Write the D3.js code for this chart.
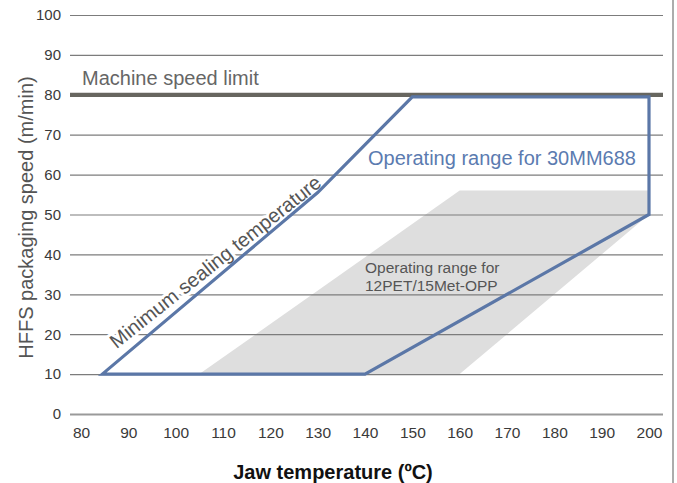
<!DOCTYPE html>
<html>
<head>
<meta charset="utf-8">
<script src="https://cdn.jsdelivr.net/npm/d3@7"></script>
<style>
  html, body { margin: 0; padding: 0; background: #fff; }
  svg { display: block; font-family: "Liberation Sans", Arial, Helvetica, sans-serif; }
</style>
</head>
<body>
<svg id="chart" width="677" height="483"></svg>
<script>
// ---- data ----
const xTicks = [80, 90, 100, 110, 120, 130, 140, 150, 160, 170, 180, 190, 200];
const yTicks = [0, 10, 20, 30, 40, 50, 60, 70, 80, 90, 100];
const speedLimit = 80;
// Operating range for 30MM688 (blue outline)
const blueTemp  = [84.5, 130, 150, 200, 200, 140];
const blueSpeed = [10, 55.5, 79.5, 79.5, 50, 10];
// Operating range for 12PET/15Met-OPP (grey area)
const greyTemp  = [105, 160, 200, 200, 160];
const greySpeed = [10, 56, 56, 50, 10];

// ---- layout ----
const W = 677, H = 483;
const gridLeft = 70, gridRight = 663;
const svg = d3.select("#chart");
const x = d3.scaleLinear().domain([80, 200]).range([81, 649]);
const y = d3.scaleLinear().domain([0, 100]).range([414, 15]);

// grey area
const greyPts = greyTemp.map((t, i) => [x(t), y(greySpeed[i])]);
svg.append("path")
  .attr("d", d3.line()(greyPts) + "Z")
  .attr("fill", "#dedede");

// y axis with gridlines
const yAxis = svg.append("g")
  .attr("transform", `translate(${gridLeft},0)`)
  .call(d3.axisLeft(y).tickValues(yTicks).tickSize(-(gridRight - gridLeft)).tickPadding(9));
yAxis.select(".domain").remove();
yAxis.selectAll(".tick line")
  .attr("stroke", d => d === 0 ? "#9a9a9a" : "#7c7c7c")
  .attr("stroke-width", d => d === 0 ? 2 : 1.2);
yAxis.selectAll(".tick text")
  .attr("fill", "#3a3a3a")
  .style("font-size", "15px")
  .style("font-family", "'Liberation Sans', Arial, sans-serif");

// x axis labels
const xAxis = svg.append("g")
  .attr("transform", `translate(0,${y(0)})`)
  .call(d3.axisBottom(x).tickValues(xTicks).tickSize(0).tickPadding(13));
xAxis.select(".domain").remove();
xAxis.selectAll(".tick text")
  .attr("fill", "#3a3a3a")
  .style("font-size", "15.5px")
  .style("font-family", "'Liberation Sans', Arial, sans-serif");

// machine speed limit line
svg.append("line")
  .attr("x1", gridLeft).attr("x2", gridRight)
  .attr("y1", y(speedLimit)).attr("y2", y(speedLimit))
  .attr("stroke", "#67665f").attr("stroke-width", 4.3);

// rotated label with white halo (drawn below the blue outline)
svg.append("text")
  .attr("transform", `translate(${x(109.3)},${y(36.8)}) rotate(-38.5)`)
  .attr("text-anchor", "middle")
  .attr("fill", "#555")
  .attr("stroke", "#fff").attr("stroke-width", 6).attr("paint-order", "stroke")
  .attr("stroke-linejoin", "round")
  .style("font-size", "20px")
  .text("Minimum sealing temperature");

// blue operating range outline
const bluePts = blueTemp.map((t, i) => [x(t), y(blueSpeed[i])]);
svg.append("path")
  .attr("d", d3.line()(bluePts) + "Z")
  .attr("fill", "none")
  .attr("stroke", "#5b77a7")
  .attr("stroke-width", 3.2)
  .attr("stroke-linejoin", "miter");

// right border
svg.append("line")
  .attr("x1", 673).attr("x2", 673).attr("y1", 0).attr("y2", H)
  .attr("stroke", "#909090").attr("stroke-width", 1.5);

// texts
svg.append("text")
  .attr("x", 82).attr("y", 85)
  .attr("fill", "#666").style("font-size", "20px")
  .text("Machine speed limit");

svg.append("text")
  .attr("x", 368).attr("y", 165)
  .attr("fill", "#5b7bb0").style("font-size", "20px")
  .text("Operating range for 30MM688");

const opp = svg.append("text")
  .attr("fill", "#555").style("font-size", "15.5px");
opp.append("tspan").attr("x", 365).attr("y", 273).text("Operating range for");
opp.append("tspan").attr("x", 365).attr("y", 291).text("12PET/15Met-OPP");

svg.append("text")
  .attr("transform", `translate(33,${(75 + 360) / 2}) rotate(-90)`)
  .attr("text-anchor", "middle")
  .attr("fill", "#555").style("font-size", "20px")
  .text("HFFS packaging speed (m/min)");

svg.append("text")
  .attr("x", 333).attr("y", 479)
  .attr("text-anchor", "middle")
  .attr("fill", "#111").style("font-size", "20px").style("font-weight", "bold")
  .text("Jaw temperature (ºC)");
</script>
</body>
</html>
